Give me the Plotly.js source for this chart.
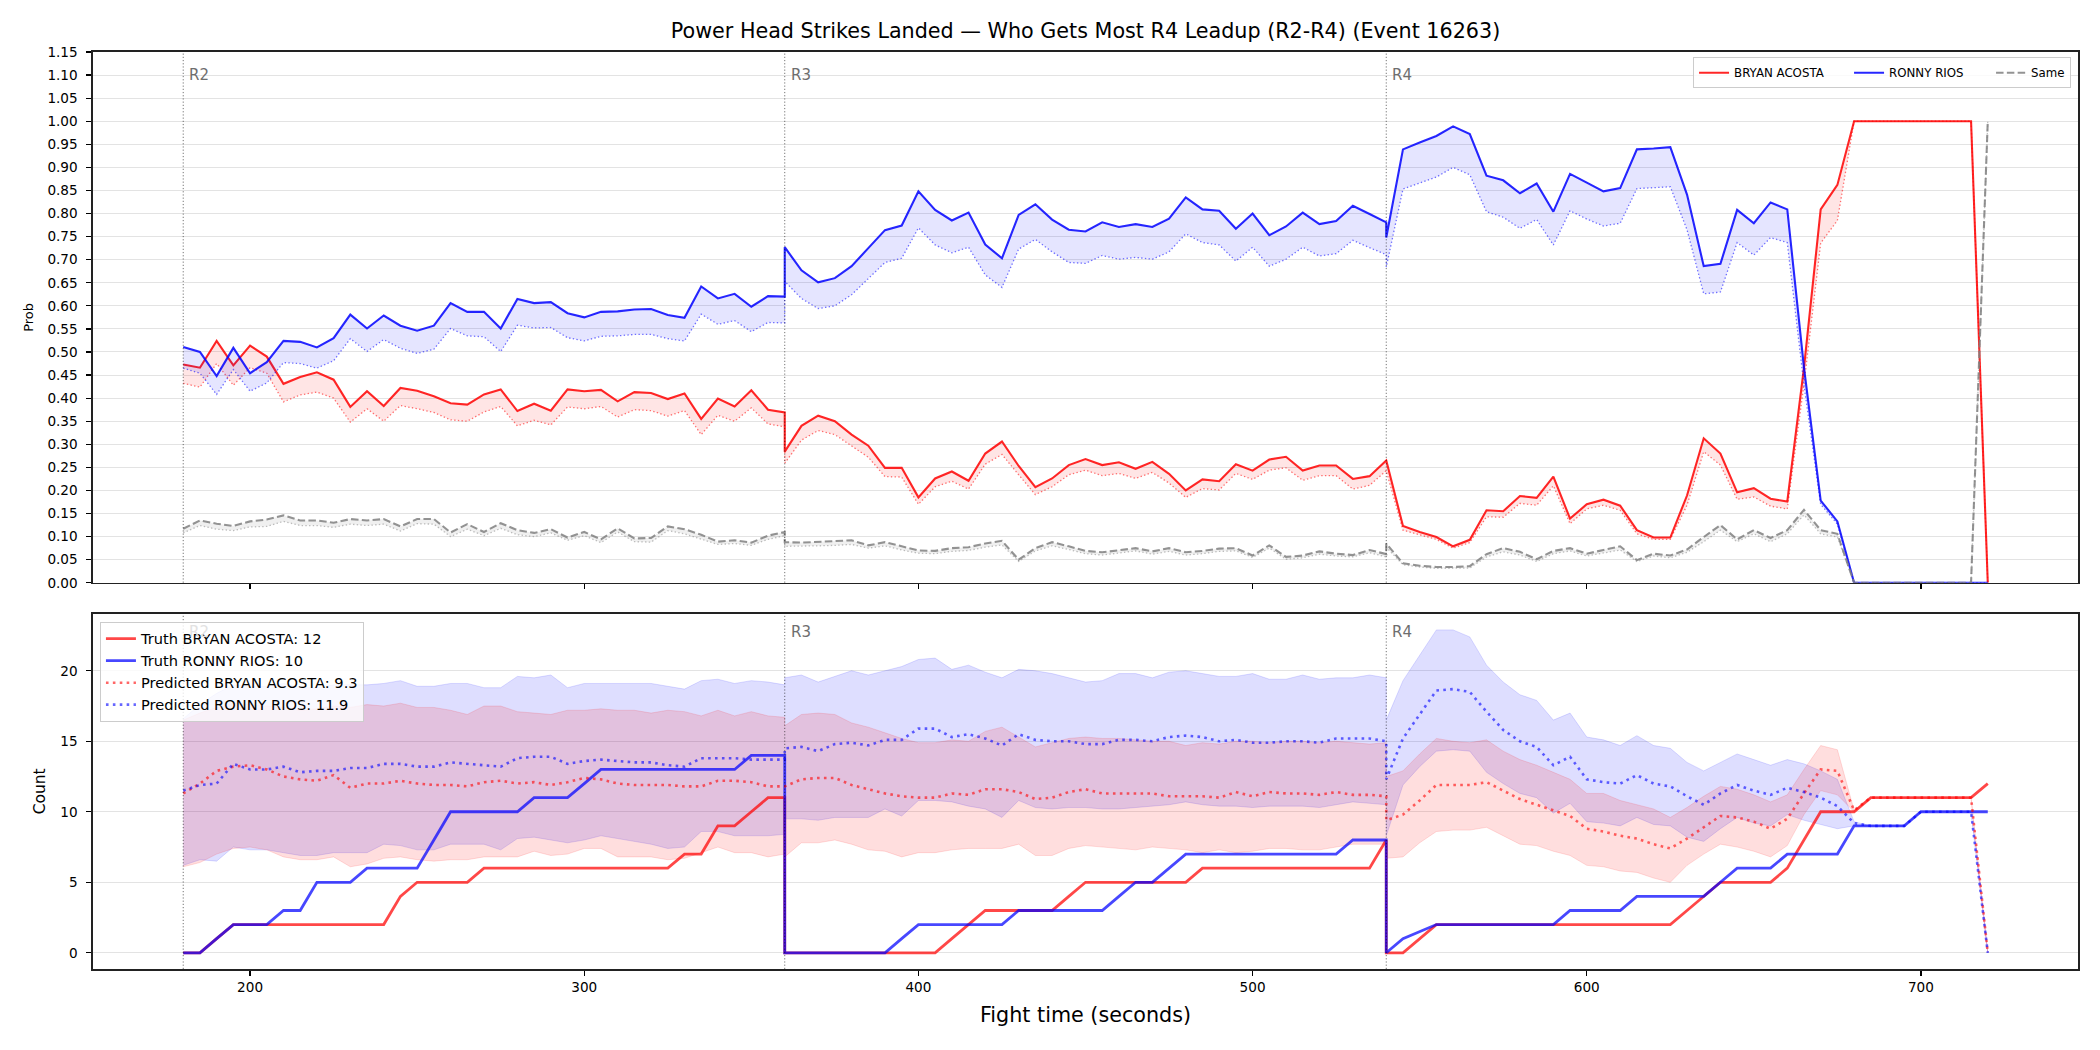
<!DOCTYPE html>
<html>
<head>
<meta charset="utf-8">
<script src="https://cdn.plot.ly/plotly-3.0.1.min.js"></script>
<style>
  html, body { margin: 0; padding: 0; background: #ffffff; }
  #chart { width: 2100px; height: 1050px; }
</style>
</head>
<body>
<div id="chart"></div>
<script>
// ---- Fight-time grid (seconds), one block per round; a round's last sample repeats as the next round's first
const timeR2 = [180,185,190,195,200,205,210,215,220,225,230,235,240,245,250,255,260,265,270,275,280,285,290,295,300,305,310,315,320,325,330,335,340,345,350,355,360];
const timeR3 = [360,365,370,375,380,385,390,395,400,405,410,415,420,425,430,435,440,445,450,455,460,465,470,475,480,485,490,495,500,505,510,515,520,525,530,535,540];
const timeR4 = [540,545,550,555,560,565,570,575,580,585,590,595,600,605,610,615,620,625,630,635,640,645,650,655,660,665,670,675,680,685,690,695,700,705,710,715,720];
const fightTime = timeR2.concat(timeR3, timeR4);

const fighterA = 'BRYAN ACOSTA';
const fighterB = 'RONNY RIOS';
const sameLabel = 'Same';
const roundStarts = [180, 360, 540];
const roundNames = ['R2', 'R3', 'R4'];

// ---- Win probability (raw) per fighter and for "Same"
const probA = [
  0.473,0.466,0.524,0.471,0.514,0.490,0.431,0.446,0.456,0.440,0.381,0.415,0.383,0.422,0.416,0.404,0.389,0.386,0.408,0.419,0.372,0.388,0.373,0.419,0.415,0.418,0.393,0.413,0.411,0.398,0.410,0.355,0.399,0.382,0.417,0.375,0.369,
  0.284,0.340,0.362,0.350,0.321,0.297,0.249,0.249,0.185,0.226,0.241,0.221,0.280,0.306,0.253,0.207,0.226,0.255,0.268,0.255,0.261,0.247,0.262,0.236,0.200,0.224,0.220,0.257,0.243,0.267,0.273,0.243,0.254,0.254,0.225,0.231,0.265,
  0.265,0.123,0.110,0.099,0.079,0.093,0.157,0.155,0.188,0.184,0.230,0.139,0.170,0.180,0.167,0.114,0.098,0.098,0.189,0.313,0.280,0.196,0.205,0.182,0.176,0.466,0.809,0.862,1.000,1.000,1.000,1.000,1.000,1.000,1.000,1.000,0.000
];
const probB = [
  0.511,0.500,0.448,0.509,0.454,0.478,0.524,0.522,0.510,0.530,0.581,0.551,0.579,0.557,0.546,0.557,0.606,0.587,0.587,0.551,0.615,0.606,0.608,0.584,0.575,0.587,0.588,0.592,0.593,0.580,0.574,0.642,0.616,0.626,0.598,0.621,0.620,
  0.727,0.677,0.651,0.660,0.686,0.725,0.764,0.774,0.848,0.808,0.785,0.802,0.733,0.703,0.797,0.820,0.787,0.765,0.761,0.781,0.771,0.777,0.771,0.789,0.835,0.809,0.806,0.767,0.800,0.753,0.772,0.802,0.777,0.784,0.817,0.799,0.781,
  0.748,0.939,0.954,0.968,0.989,0.972,0.882,0.872,0.844,0.865,0.804,0.886,0.867,0.848,0.855,0.939,0.941,0.944,0.841,0.686,0.691,0.808,0.779,0.824,0.809,0.466,0.178,0.133,0,0,0,0,0,0,0,0,0
];
const probSame = [
  0.117,0.135,0.128,0.123,0.133,0.137,0.146,0.135,0.135,0.130,0.138,0.135,0.138,0.122,0.138,0.138,0.109,0.127,0.110,0.129,0.114,0.108,0.116,0.098,0.110,0.094,0.118,0.096,0.097,0.122,0.116,0.104,0.089,0.092,0.087,0.102,0.110,
  0.088,0.087,0.089,0.090,0.092,0.081,0.088,0.079,0.070,0.069,0.075,0.077,0.085,0.091,0.050,0.075,0.088,0.079,0.069,0.066,0.070,0.075,0.068,0.075,0.066,0.069,0.074,0.075,0.059,0.081,0.056,0.059,0.068,0.063,0.060,0.071,0.062,
  0.085,0.042,0.037,0.034,0.034,0.036,0.062,0.075,0.067,0.051,0.069,0.075,0.063,0.071,0.079,0.049,0.063,0.059,0.072,0.099,0.125,0.094,0.114,0.097,0.114,0.158,0.114,0.106,0,0,0,0,0,0,0,0,1.000
];

// ---- Normalised probability (dotted lower edge of each shaded band)
const normA = [
  0.432,0.424,0.475,0.428,0.466,0.454,0.392,0.407,0.413,0.400,0.348,0.377,0.350,0.384,0.377,0.369,0.353,0.350,0.370,0.382,0.340,0.352,0.342,0.381,0.377,0.382,0.359,0.375,0.373,0.361,0.373,0.321,0.363,0.350,0.379,0.344,0.338,
  0.259,0.309,0.330,0.321,0.297,0.272,0.230,0.229,0.170,0.208,0.220,0.203,0.257,0.278,0.234,0.191,0.208,0.234,0.244,0.232,0.237,0.226,0.239,0.216,0.185,0.204,0.201,0.237,0.224,0.244,0.249,0.222,0.232,0.232,0.203,0.211,0.243,
  0.242,0.114,0.104,0.094,0.075,0.087,0.143,0.142,0.172,0.168,0.210,0.128,0.160,0.168,0.157,0.106,0.094,0.094,0.168,0.284,0.255,0.181,0.186,0.166,0.160,0.430,0.736,0.785,1.000,1.000,1.000,1.000,1.000,1.000,1.000,1.000,0
];
const normB = [
  0.465,0.454,0.408,0.462,0.415,0.433,0.477,0.475,0.465,0.481,0.529,0.501,0.527,0.508,0.497,0.506,0.551,0.535,0.533,0.501,0.558,0.552,0.553,0.531,0.524,0.534,0.535,0.538,0.538,0.529,0.524,0.582,0.560,0.568,0.544,0.564,0.563,
  0.653,0.616,0.594,0.600,0.624,0.659,0.694,0.703,0.769,0.732,0.715,0.727,0.667,0.640,0.723,0.744,0.717,0.694,0.692,0.709,0.701,0.705,0.701,0.717,0.756,0.737,0.732,0.697,0.727,0.686,0.701,0.727,0.708,0.713,0.742,0.726,0.711,
  0.684,0.853,0.866,0.879,0.900,0.884,0.804,0.792,0.768,0.787,0.732,0.806,0.788,0.773,0.779,0.854,0.856,0.858,0.765,0.626,0.630,0.737,0.710,0.748,0.737,0.428,0.170,0.127,0,0,0,0,0,0,0,0,0
];
const normSame = [
  0.108,0.124,0.116,0.113,0.121,0.122,0.133,0.124,0.124,0.120,0.127,0.124,0.127,0.112,0.128,0.127,0.100,0.116,0.102,0.118,0.104,0.100,0.108,0.092,0.102,0.087,0.110,0.089,0.088,0.113,0.106,0.095,0.083,0.085,0.081,0.094,0.102,
  0.079,0.079,0.080,0.081,0.083,0.075,0.080,0.071,0.064,0.063,0.068,0.070,0.077,0.082,0.046,0.069,0.080,0.072,0.063,0.060,0.064,0.069,0.062,0.068,0.060,0.063,0.068,0.069,0.055,0.075,0.051,0.054,0.062,0.058,0.056,0.065,0.056,
  0.077,0.039,0.034,0.031,0.031,0.032,0.056,0.067,0.060,0.046,0.063,0.069,0.058,0.065,0.071,0.046,0.058,0.054,0.066,0.089,0.114,0.089,0.106,0.089,0.106,0.147,0.106,0.099,0,0,0,0,0,0,0,0,1.000
];

// ---- Cumulative power head strikes landed (truth), per round
const truthA = [
  0,0,1,2,2,2,2,2,2,2,2,2,2,4,5,5,5,5,6,6,6,6,6,6,6,6,6,6,6,6,7,7,9,9,10,11,11,
  0,0,0,0,0,0,0,0,0,0,1,2,3,3,3,3,3,4,5,5,5,5,5,5,5,6,6,6,6,6,6,6,6,6,6,6,8,
  0,0,1,2,2,2,2,2,2,2,2,2,2,2,2,2,2,2,3,4,5,5,5,5,6,8,10,10,10,11,11,11,11,11,11,11,12
];
const truthB = [
  0,0,1,2,2,2,3,3,5,5,5,6,6,6,6,8,10,10,10,10,10,11,11,11,12,13,13,13,13,13,13,13,13,13,14,14,14,
  0,0,0,0,0,0,0,1,2,2,2,2,2,2,3,3,3,3,3,3,4,5,5,6,7,7,7,7,7,7,7,7,7,7,8,8,8,
  0,1,null,2,2,2,2,2,2,2,2,3,3,3,3,4,4,4,4,4,5,6,6,6,7,7,7,7,9,9,9,9,10,10,10,10,10
];

// ---- Predicted round total (dotted) with its interval
const predA = [
  11.3,12.0,12.9,13.2,13.3,13.0,12.5,12.3,12.2,12.6,11.7,12.0,12.0,12.2,12.0,11.9,11.9,11.8,12.1,12.2,12.0,12.1,11.9,12.1,12.4,12.3,12.0,11.9,11.9,11.9,11.8,11.8,12.2,12.2,12.1,11.8,11.8,
  11.8,12.3,12.4,12.4,11.9,11.6,11.3,11.1,11.0,11.0,11.3,11.2,11.6,11.6,11.4,10.9,11.0,11.4,11.6,11.3,11.3,11.3,11.3,11.1,11.1,11.1,11.0,11.4,11.1,11.4,11.3,11.3,11.2,11.4,11.2,11.2,11.1,
  9.4,9.8,10.8,11.9,11.9,11.9,12.1,11.5,10.9,10.5,10.1,9.7,8.8,8.6,8.3,8.1,7.7,7.4,8.1,8.9,9.7,9.6,9.3,8.8,9.5,11.3,13.0,12.9,10.1,11,11,11,11,11,11,11,0
];
const predB = [
  11.5,11.9,12.0,13.4,13.0,13.0,13.2,12.8,12.9,12.9,13.1,13.1,13.4,13.4,13.2,13.2,13.5,13.4,13.3,13.2,13.8,13.9,13.9,13.4,13.6,13.7,13.6,13.5,13.5,13.3,13.2,13.8,13.8,13.8,13.7,13.7,13.7,
  14.5,14.6,14.3,14.8,14.9,14.7,15.1,15.1,15.9,15.9,15.3,15.5,15.2,14.7,15.5,15.1,15.0,15.0,14.8,14.8,15.1,15.1,15.0,15.3,15.4,15.3,15.0,15.1,14.9,14.9,15.0,15.0,14.9,15.2,15.2,15.2,15.0,
  12.3,15.2,16.9,18.6,18.7,18.5,17.1,15.8,15.0,14.6,13.3,13.9,12.3,12.1,12.0,12.6,12.0,11.8,11.1,10.5,11.3,11.9,11.5,11.2,11.7,11.4,11.0,10.4,9.2,9,9,9,10,10,10,10,0
];
const upperA = [
  16.5,17.0,17.4,17.7,17.6,17.5,17.4,17.2,17.3,17.5,17.4,17.6,17.5,17.7,17.4,17.4,17.2,16.9,17.5,17.5,17.1,17.0,16.9,17.2,17.2,17.3,17.2,17.2,17.0,17.2,17.1,16.8,17.2,16.8,17.1,16.8,16.7,
  16.1,16.9,17.0,16.9,16.3,16.0,15.6,15.2,14.9,14.9,15.1,15.0,15.7,16.0,15.3,14.6,14.9,15.2,15.3,15.2,15.2,15.1,15.0,15.0,14.7,14.9,14.8,15.0,15.0,14.9,15.0,15.0,14.9,15.0,14.9,14.8,14.9,
  12.5,12.9,14.1,15.2,15.0,14.9,15.1,14.3,13.7,13.3,12.8,12.3,11.3,11.3,10.8,10.5,10.2,9.6,10.3,11.1,11.8,11.6,11.2,10.7,11.2,13.0,14.7,14.4,10.1,11,11,11,11,11,11,11,0
];
const lowerA = [
  6.1,6.4,7.0,7.4,7.5,7.3,6.8,6.6,6.6,6.8,6.1,6.3,6.7,6.8,6.6,6.5,6.6,6.6,6.8,6.8,6.8,7.2,6.9,7.0,7.4,7.4,6.8,6.8,6.8,6.6,6.7,7.1,7.5,7.1,7.1,6.8,7.0,
  6.8,7.8,7.8,8.0,7.7,7.3,7.2,6.8,7.1,7.1,7.3,7.4,7.4,7.4,7.7,6.9,6.9,7.4,7.6,7.5,7.4,7.3,7.5,7.4,7.3,7.1,7.3,7.1,7.2,7.4,7.4,7.3,7.3,7.5,7.7,7.7,7.7,
  6.7,6.8,7.8,8.6,8.7,8.7,8.9,8.3,7.7,7.6,7.2,6.9,6.2,6.1,5.8,5.7,5.3,5.0,6.2,7.0,7.7,7.5,7.2,6.8,7.6,9.8,11.5,11.2,10.0,11,11,11,11,11,11,11,0
];
const upperB = [
  16.6,17.6,18.4,19.0,18.9,18.9,19.1,18.8,18.8,19.0,19.0,19.0,19.1,19.3,18.9,18.9,19.1,19.1,18.8,18.8,19.6,19.5,19.7,18.8,19.1,19.1,19.1,19.1,19.1,18.9,18.7,19.3,19.4,19.1,19.3,19.2,19.0,
  19.5,19.7,19.2,19.6,20.0,19.7,20.0,20.3,20.8,20.9,20.1,20.4,19.9,19.5,20.1,20.0,19.8,19.5,19.2,19.3,19.8,19.8,19.5,19.9,20.0,19.8,19.6,19.6,19.8,19.4,19.4,19.7,19.4,19.5,19.5,19.7,19.5,
  16.5,19.3,21.1,22.9,22.9,22.4,20.4,19.2,18.3,17.9,16.5,17.0,15.3,15.1,14.7,15.4,14.7,14.5,13.5,12.9,13.5,14.1,13.7,13.3,13.7,13.4,12.9,12.3,9.3,9,9,9,10,10,10,10,0
];
const lowerB = [
  6.2,6.6,6.5,7.5,7.3,7.3,7.1,6.9,6.9,7.1,7.1,7.1,7.7,7.6,7.3,7.3,7.7,7.7,7.7,7.3,8.1,8.2,8.0,7.8,8.0,8.3,8.1,7.9,7.7,7.4,7.5,8.6,8.6,8.3,8.3,8.3,8.4,
  9.5,9.5,9.4,9.6,9.6,9.6,10.2,9.7,10.8,10.8,10.7,10.4,10.2,9.6,10.8,10.3,10.2,10.3,10.3,10.2,10.2,10.3,10.4,10.5,10.7,10.5,10.4,10.4,10.3,10.4,10.4,10.4,10.3,10.5,10.7,10.6,10.5,
  8.3,11.9,13.2,14.3,14.4,14.3,12.8,12.0,11.3,11.0,9.9,10.6,9.3,9.2,9.0,9.6,9.1,9.0,8.2,7.9,8.8,9.6,9.2,9.0,9.8,9.4,9.1,8.8,9.0,9,9,9,10,10,10,10,0
];

// Totals quoted in the count legend
const finalTruthA = 12, finalTruthB = 10;
const finalPredA = 9.3, finalPredB = 11.9;

// ---- Styling
const FONT = 'DejaVu Sans, Verdana, sans-serif';
const RED = 'rgba(255,0,0,0.85)', BLUE = 'rgba(0,0,255,0.85)', GRAY = 'rgba(128,128,128,0.85)';

function probPair(yMain, yNorm, name, color, dotColor, fillColor, mainDash, entryWidth) {
  const main = { x: fightTime, y: yMain, xaxis: 'x', yaxis: 'y', type: 'scatter', mode: 'lines', name: name,
    legend: 'legend', line: { color: color, width: 2.1, dash: mainDash || 'solid' }, hoverinfo: 'skip' };
  if (entryWidth) main.legendwidth = entryWidth;
  return [
    main,
    { x: fightTime, y: yNorm, xaxis: 'x', yaxis: 'y', type: 'scatter', mode: 'lines', showlegend: false,
      fill: 'tonexty', fillcolor: fillColor,
      line: { color: dotColor, width: 1.3, dash: '1.4px,2.3px' }, hoverinfo: 'skip' }
  ];
}

const traces = [].concat(
  probPair(probA, normA, fighterA, RED, 'rgba(255,0,0,0.55)', 'rgba(255,0,0,0.1)', null, 110),
  probPair(probB, normB, fighterB, BLUE, 'rgba(0,0,255,0.55)', 'rgba(0,0,255,0.1)', null, 97),
  probPair(probSame, normSame, sameLabel, GRAY, 'rgba(128,128,128,0.5)', 'rgba(128,128,128,0.12)', '7.5px,3.3px'),
  [
    { x: fightTime, y: lowerB, xaxis: 'x2', yaxis: 'y2', type: 'scatter', mode: 'lines', showlegend: false,
      line: { color: 'rgba(0,0,255,0.13)', width: 1 }, hoverinfo: 'skip' },
    { x: fightTime, y: upperB, xaxis: 'x2', yaxis: 'y2', type: 'scatter', mode: 'lines', showlegend: false,
      fill: 'tonexty', fillcolor: 'rgba(0,0,255,0.13)',
      line: { color: 'rgba(0,0,255,0.13)', width: 1 }, hoverinfo: 'skip' },
    { x: fightTime, y: lowerA, xaxis: 'x2', yaxis: 'y2', type: 'scatter', mode: 'lines', showlegend: false,
      line: { color: 'rgba(255,0,0,0.13)', width: 1 }, hoverinfo: 'skip' },
    { x: fightTime, y: upperA, xaxis: 'x2', yaxis: 'y2', type: 'scatter', mode: 'lines', showlegend: false,
      fill: 'tonexty', fillcolor: 'rgba(255,0,0,0.13)',
      line: { color: 'rgba(255,0,0,0.13)', width: 1 }, hoverinfo: 'skip' },
    { x: fightTime, y: truthA, xaxis: 'x2', yaxis: 'y2', type: 'scatter', mode: 'lines', connectgaps: true,
      name: 'Truth ' + fighterA + ': ' + finalTruthA, legend: 'legend2',
      line: { color: 'rgba(255,0,0,0.72)', width: 2.8 }, hoverinfo: 'skip' },
    { x: fightTime, y: truthB, xaxis: 'x2', yaxis: 'y2', type: 'scatter', mode: 'lines', connectgaps: true,
      name: 'Truth ' + fighterB + ': ' + finalTruthB, legend: 'legend2',
      line: { color: 'rgba(0,0,255,0.72)', width: 2.8 }, hoverinfo: 'skip' },
    { x: fightTime, y: predA, xaxis: 'x2', yaxis: 'y2', type: 'scatter', mode: 'lines',
      name: 'Predicted ' + fighterA + ': ' + finalPredA, legend: 'legend2',
      line: { color: 'rgba(255,0,0,0.6)', width: 2.6, dash: '2.6px,4.3px' }, hoverinfo: 'skip' },
    { x: fightTime, y: predB, xaxis: 'x2', yaxis: 'y2', type: 'scatter', mode: 'lines',
      name: 'Predicted ' + fighterB + ': ' + finalPredB, legend: 'legend2',
      line: { color: 'rgba(0,0,255,0.6)', width: 2.6, dash: '2.6px,4.3px' }, hoverinfo: 'skip' }
  ]
);

// Round boundary markers and labels in both panels
// (the R2 label of the count panel sits under the semi-opaque legend, hence its washed-out colour)
const shapes = [];
const annotations = [];
roundStarts.forEach(function (t, i) {
  [['x', 'y', 0.957], ['x2', 'y2', 0.949]].forEach(function (ax) {
    const underLegend = (ax[0] === 'x2' && i === 0);
    shapes.push({ type: 'line', xref: ax[0], yref: ax[1] + ' domain', x0: t, x1: t, y0: 0, y1: 1,
      line: { color: 'rgba(0,0,0,0.55)', width: 1, dash: '1.2px,2px' }, layer: 'above' });
    annotations.push({ xref: ax[0], yref: ax[1] + ' domain', x: t, y: ax[2], text: roundNames[i],
      showarrow: false, xanchor: 'left', yanchor: 'middle', xshift: 4,
      font: { family: FONT, size: 15, color: underLegend ? '#e2e2e2' : '#6e6e6e' } });
  });
});

const axisCommon = {
  ticks: 'outside', ticklen: 5, tickwidth: 1.2, tickcolor: '#000',
  showline: true, mirror: true, linecolor: '#222', linewidth: 1.6,
  zeroline: false, tickfont: { family: FONT, size: 13.6, color: '#000' }
};

const layout = {
  width: 2100, height: 1050,
  paper_bgcolor: '#ffffff', plot_bgcolor: '#ffffff',
  font: { family: FONT, color: '#000' },
  margin: { l: 93, r: 22, t: 52, b: 81 },
  title: { text: 'Power Head Strikes Landed \u2014 Who Gets Most R4 Leadup (R2-R4) (Event 16263)',
    x: 0.5, xref: 'paper', y: 1 - 30.8 / 1050, yref: 'container', yanchor: 'middle',
    font: { family: FONT, size: 20.7, color: '#000' } },
  xaxis: Object.assign({}, axisCommon, { domain: [0, 1], anchor: 'y', range: [153, 747],
    tickmode: 'linear', tick0: 0, dtick: 100, showticklabels: false, showgrid: false }),
  yaxis: Object.assign({}, axisCommon, { domain: [0.4212, 1], anchor: 'x', range: [0, 1.15],
    tickmode: 'linear', tick0: 0, dtick: 0.05, tickformat: '.2f', ticklabelstandoff: 6,
    showgrid: true, gridcolor: '#e3e3e3', gridwidth: 1,
    title: { text: 'Prob', font: { family: FONT, size: 13, color: '#000' }, standoff: 11 } }),
  xaxis2: Object.assign({}, axisCommon, { domain: [0, 1], anchor: 'y2', matches: 'x', range: [153, 747],
    tickmode: 'linear', tick0: 0, dtick: 100, showgrid: false,
    title: { text: 'Fight time (seconds)', font: { family: FONT, size: 20.7, color: '#000' }, standoff: 13 } }),
  yaxis2: Object.assign({}, axisCommon, { domain: [0, 0.3875], anchor: 'x2', range: [-1.15, 24.05],
    tickmode: 'linear', tick0: 0, dtick: 5, ticklabelstandoff: 6,
    showgrid: true, gridcolor: '#e3e3e3', gridwidth: 1,
    title: { text: 'Count', font: { family: FONT, size: 15.5, color: '#000' }, standoff: 11 } }),
  legend: { orientation: 'h', traceorder: 'normal', x: 0.9965, xanchor: 'right', y: 0.9942, yanchor: 'top',
    bgcolor: 'rgba(255,255,255,0.8)', bordercolor: '#cccccc', borderwidth: 1,
    font: { family: FONT, size: 11.8, color: '#000' } },
  legend2: { orientation: 'v', traceorder: 'normal', x: 0.0035, xanchor: 'left', y: 0.3787, yanchor: 'top',
    bgcolor: 'rgba(255,255,255,0.8)', bordercolor: '#cccccc', borderwidth: 1,
    font: { family: FONT, size: 14.6, color: '#000' } },
  shapes: shapes,
  annotations: annotations,
  showlegend: true
};

Plotly.newPlot('chart', traces, layout, { displayModeBar: false, staticPlot: true });
</script>
</body>
</html>
